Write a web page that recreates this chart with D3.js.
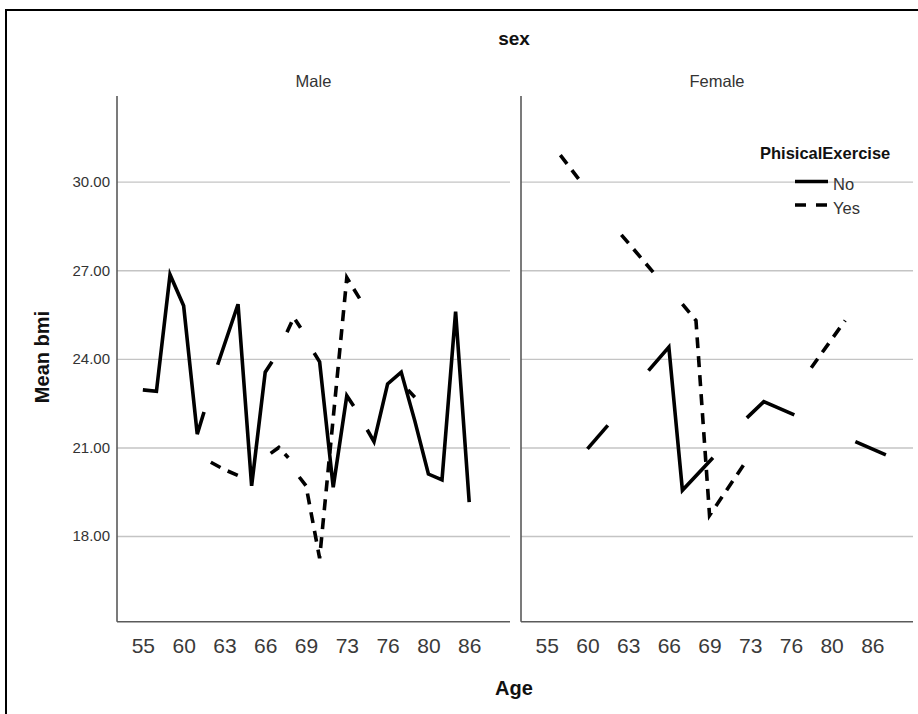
<!DOCTYPE html>
<html><head><meta charset="utf-8">
<script src="https://cdn.jsdelivr.net/npm/d3@7"></script>
<style>
body{margin:0;background:#fff}
svg text{font-family: Arial, "Liberation Sans", sans-serif}
</style>
</head><body>
<svg id="chart" width="918" height="714"></svg>
<script>
// ---------- data ----------
const panels = ["Male", "Female"];
const groups = ["No", "Yes"];
const ageLabels = ["55","60","63","66","69","73","76","80","86"];
const ageLabelPos = [0,3,6,9,12,15,18,21,24];   // position of labelled ages on the category axis
const yTicks = [18, 21, 24, 27, 30];

// each series: list of visible line segments, points = [age-category position, mean bmi]
const maleNo = [
  [[0,22.95],[1,22.9],[2,26.85],[3,25.8],[4,21.45],[4.5,22.2]],
  [[5.5,23.8],[7,25.85],[8,19.7],[9,23.55],[9.5,23.9]],
  [[12.6,24.2],[13,23.9],[14,19.65],[15,22.75],[15.5,22.4]],
  [[16.5,21.6],[17,21.2],[18,23.15],[19,23.55],[20,21.9],[21,20.1],[22,19.9],[23,25.6],[24,19.15]]
];
const maleYes = [
  [[5,20.5],[6,20.25],[7,20.05],[7.25,20.0]],
  [[9.4,20.8],[10,21.0],[10.7,20.65]],
  [[10.6,24.9],[11.1,25.4],[11.6,25.05]],
  [[11.5,20.0],[12,19.7],[13,17.25],[15,26.75],[16,26.0]],
  [[19.5,22.95],[20,22.7]]
];
const femaleNo = [
  [[3,20.95],[4.5,21.75]],
  [[7.5,23.6],[9,24.4],[10,19.55],[12.25,20.65]],
  [[14.75,22.0],[16,22.55],[18.25,22.1]],
  [[22.75,21.2],[25,20.75]]
];
const femaleYes = [
  [[1,30.9],[2.5,30.0]],
  [[5.5,28.2],[8,26.85]],
  [[10,25.85],[11,25.3],[12,18.7],[14.5,20.4]],
  [[19.5,23.7],[22,25.3]]
];
const seriesByPanel = {
  Male:   {No: maleNo,   Yes: maleYes},
  Female: {No: femaleNo, Yes: femaleYes}
};

// ---------- layout ----------
const svg = d3.select("#chart");
const plotTop = 96, plotBottom = 621.7;
const panelX = {Male: [117, 510], Female: [521, 913]};
const yScale = d3.scaleLinear().domain([15.1, 32.9]).range([plotBottom, plotTop]);
const catDomain = [-1.9, 27];
const dashes = {No: null, Yes: "11,8"};
const axisColor = "#5a5a5a", gridColor = "#c4c4c4", textColor = "#333";

// frame
svg.append("path").attr("d", "M6,714V10H918").attr("fill","none").attr("stroke","#000").attr("stroke-width",2);

// titles
svg.append("text").attr("x", 514).attr("y", 45).attr("text-anchor","middle")
  .attr("font-size", 19).attr("font-weight","bold").attr("fill","#111").text("sex");
svg.append("text").attr("transform","translate(49,357) rotate(-90)").attr("text-anchor","middle")
  .attr("font-size", 20).attr("font-weight","bold").attr("fill","#111").text("Mean bmi");
svg.append("text").attr("x", 514).attr("y", 695).attr("text-anchor","middle")
  .attr("font-size", 20).attr("font-weight","bold").attr("fill","#111").text("Age");

panels.forEach((p, pi) => {
  const [x0, x1] = panelX[p];
  const x = d3.scaleLinear().domain(catDomain).range([x0, x1]);
  const g = svg.append("g");

  // panel title
  g.append("text").attr("x", (x0 + x1) / 2).attr("y", 87).attr("text-anchor","middle")
    .attr("font-size", 16.5).attr("fill", textColor).text(p);

  // y grid + labels
  const yAxis = d3.axisLeft(yScale).tickValues(yTicks)
    .tickFormat(pi === 0 ? d3.format(".2f") : () => "")
    .tickSize(-(x1 - x0)).tickPadding(7);
  const ya = g.append("g").attr("transform", `translate(${x0},0)`).call(yAxis);
  ya.select(".domain").remove();
  ya.selectAll(".tick line").attr("stroke", gridColor).attr("stroke-width", 1.4);
  ya.selectAll(".tick text").attr("font-size", 15).attr("fill", textColor)
    .attr("font-family", "Arial, 'Liberation Sans', sans-serif");

  // x labels
  const xAxis = d3.axisBottom(x).tickValues(ageLabelPos)
    .tickFormat((d, i) => ageLabels[i]).tickSize(0).tickPadding(16);
  const xa = g.append("g").attr("transform", `translate(0,${plotBottom})`).call(xAxis);
  xa.select(".domain").remove();
  xa.selectAll(".tick text").attr("font-size", 21).attr("fill", "#3a3a3a")
    .attr("font-family", "Arial, 'Liberation Sans', sans-serif");

  // axis lines
  g.append("line").attr("x1", x0).attr("x2", x0).attr("y1", plotTop).attr("y2", plotBottom)
    .attr("stroke", axisColor).attr("stroke-width", 1.6);
  g.append("line").attr("x1", x0).attr("x2", x1).attr("y1", plotBottom).attr("y2", plotBottom)
    .attr("stroke", axisColor).attr("stroke-width", 1.6);

  // lines
  const line = d3.line().x(d => x(d[0])).y(d => yScale(d[1]));
  groups.forEach(grp => {
    seriesByPanel[p][grp].forEach(seg => {
      g.append("path").attr("d", line(seg)).attr("fill","none")
        .attr("stroke","#000").attr("stroke-width", 3.6)
        .attr("stroke-linejoin","miter").attr("stroke-linecap","butt")
        .attr("stroke-dasharray", dashes[grp]);
    });
  });
});

// legend
const lg = svg.append("g");
lg.append("text").attr("x", 760).attr("y", 159).attr("font-size", 16.5)
  .attr("font-weight","bold").attr("fill","#111").text("PhisicalExercise");
const legY = [181.5, 205];
groups.forEach((grp, i) => {
  lg.append("line").attr("x1", 795).attr("x2", 828).attr("y1", legY[i]).attr("y2", legY[i])
    .attr("stroke","#000").attr("stroke-width", 3.6).attr("stroke-dasharray", grp === "Yes" ? "11,10" : null);
  lg.append("text").attr("x", 833).attr("y", legY[i] + 8.5).attr("font-size", 16.5)
    .attr("fill", textColor).text(grp);
});
</script>
</body></html>
